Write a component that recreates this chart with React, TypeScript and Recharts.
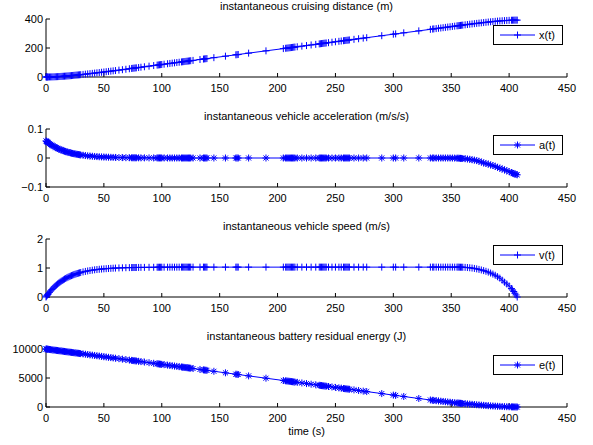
import { LineChart, Line, XAxis, YAxis, Legend, Label } from 'recharts'

const BLUE = '#0000ff'
const FONT = '"Liberation Sans", Arial, Helvetica, sans-serif'

// time samples (s)
const TIME = [
  0, 0.5, 1, 1.5, 2, 3, 4, 5, 6, 7,
  8, 9, 10, 11, 12, 13, 14, 15, 16, 17,
  18, 19, 20, 21, 22, 23, 24, 25, 26, 27,
  28, 29, 30, 32, 34, 36, 38, 40, 42, 44,
  46, 48, 50, 52, 54, 56, 58, 60, 63, 66,
  69,
  72, 74, 75, 76, 77, 78, 80, 82, 85, 89,
  93, 96, 97, 98, 99, 100, 102, 105, 107, 109,
  111, 113, 115, 117, 118, 119, 120, 121, 122, 123,
  124, 125, 127, 133, 136, 137, 138, 139, 145, 155,
  164, 165, 166, 175, 190,
  205, 207, 208, 209, 210, 211, 212, 213, 214, 215,
  217, 221, 225, 229, 233, 236, 237, 238, 239, 240,
  241, 242, 244, 247, 250, 253, 255, 257, 258, 259,
  260, 261, 262, 266, 270, 274, 277, 290, 300, 302,
  309, 322,
  332, 334, 335, 337, 339, 341, 343, 345, 347, 349,
  351, 353, 355, 356, 357, 358, 359, 360, 362, 364,
  366, 368, 370, 372, 374, 376, 378, 380, 382, 384,
  386, 388, 390, 392, 394, 396, 398, 400, 402, 403,
  404, 405, 406, 407,
]

// x(t) in m
const DISTANCE = [
  0, 0.01, 0.03, 0.06, 0.11, 0.25, 0.44, 0.67, 0.95, 1.27,
  1.63, 2.02, 2.45, 2.92, 3.42, 3.94, 4.49, 5.07, 5.68, 6.31,
  6.96, 7.63, 8.32, 9.03, 9.76, 10.51, 11.27, 12.05, 12.84, 13.64,
  14.45, 15.28, 16.12, 17.83, 19.58, 21.36, 23.17, 25.01, 26.87, 28.75,
  30.66, 32.58, 34.51, 36.46, 38.42, 40.39, 42.37, 44.36, 47.36, 50.37,
  53.4,
  56.9, 59.0, 60.1, 61.1, 62.2, 63.2, 65.3, 67.4, 70.5, 74.7,
  78.9, 82.0, 83.1, 84.1, 85.2, 86.2, 88.3, 91.4, 93.5, 95.6,
  97.7, 99.8, 101.9, 104.0, 105.0, 106.1, 107.1, 108.1, 109.2, 110.2,
  111.3, 112.3, 114.4, 120.7, 123.8, 124.9, 125.9, 127.0, 133.2, 143.7,
  153.1, 154.1, 155.2, 164.6, 180.3,
  195.9, 198.0, 199.1, 200.1, 201.2, 202.2, 203.2, 204.3, 205.3, 206.4,
  208.5, 212.7, 216.8, 221.0, 225.2, 228.3, 229.4, 230.4, 231.5, 232.5,
  233.5, 234.6, 236.7, 239.8, 243.0, 246.1, 248.2, 250.3, 251.3, 252.4,
  253.4, 254.4, 255.5, 259.7, 263.9, 268.0, 271.2, 284.8, 295.2, 297.3,
  304.6, 318.2,
  328.6, 330.7, 331.8, 333.9, 336.0, 338.0, 340.1, 342.2, 344.3, 346.4,
  348.5, 350.6, 352.7, 353.7, 354.8, 355.8, 356.8, 357.8, 359.9, 361.9,
  363.9, 365.9, 367.9, 369.8, 371.7, 373.6, 375.4, 377.2, 379.0, 380.7,
  382.3, 383.9, 385.3, 386.7, 387.9, 389.0, 390.0, 390.8, 391.5, 391.8,
  392.0, 392.2, 392.3, 392.3,
]

// a(t) in m/s/s
const ACCEL = [
  0.0589, 0.0572, 0.0556, 0.054, 0.0525, 0.0496, 0.0468, 0.0442, 0.0418, 0.0395,
  0.0373, 0.0352, 0.0332, 0.0314, 0.0297, 0.028, 0.0264, 0.025, 0.0236, 0.0223,
  0.021, 0.0199, 0.0188, 0.0177, 0.0167, 0.0158, 0.0149, 0.0141, 0.0133, 0.0126,
  0.0119, 0.0112, 0.0106, 0.0095, 0.0084, 0.0075, 0.0067, 0.006, 0.0053, 0.0048,
  0.0042, 0.0038, 0.0034, 0.003, 0.0027, 0.0024, 0.0021, 0.0019, 0.0016, 0.0014,
  0.0011,
  0.001, 0.0009, 0.0008, 0.0008, 0.0007, 0.0007, 0.0006, 0.0005, 0.0005, 0.0004,
  0.0003, 0.0003, 0.0002, 0.0002, 0.0002, 0.0002, 0.0002, 0.0001, 0.0001, 0.0001,
  0.0001, 0.0001, 0.0001, 0, 0, 0, 0, 0, 0, 0,
  0, 0, 0, 0, 0, 0, 0, 0, 0, 0,
  0, 0, 0, 0, 0,
  0, 0, 0, 0, 0, 0, 0, 0, 0, 0,
  0, 0, 0, 0, 0, 0, 0, 0, 0, 0,
  0, 0, 0, 0, 0, 0, 0, 0, 0, 0,
  0, 0, 0, 0, 0, 0, 0, 0, 0, 0,
  0, 0,
  0, 0, 0, 0, 0, 0, 0, 0, 0, -0.0001,
  -0.0002, -0.0003, -0.0005, -0.0007, -0.001, -0.0012, -0.0015, -0.0018, -0.0025, -0.0035,
  -0.0045, -0.006, -0.0075, -0.009, -0.011, -0.014, -0.017, -0.019, -0.021, -0.024,
  -0.026, -0.029, -0.032, -0.035, -0.038, -0.041, -0.044, -0.047, -0.05, -0.052,
  -0.054, -0.055, -0.057, -0.058,
]

// v(t) in m/s
const SPEED = [
  0, 0.029, 0.057, 0.085, 0.111, 0.162, 0.21, 0.256, 0.299, 0.34,
  0.378, 0.414, 0.448, 0.481, 0.511, 0.54, 0.567, 0.593, 0.617, 0.64,
  0.662, 0.682, 0.702, 0.72, 0.737, 0.753, 0.769, 0.783, 0.797, 0.81,
  0.822, 0.834, 0.844, 0.865, 0.882, 0.898, 0.913, 0.925, 0.937, 0.947,
  0.956, 0.964, 0.971, 0.977, 0.983, 0.988, 0.993, 0.997, 1.002, 1.006,
  1.01,
  1.013, 1.015, 1.016, 1.017, 1.017, 1.018, 1.019, 1.021, 1.022, 1.024,
  1.025, 1.026, 1.026, 1.027, 1.027, 1.027, 1.028, 1.028, 1.029, 1.029,
  1.029, 1.029, 1.03, 1.03, 1.03, 1.03, 1.03, 1.03, 1.03, 1.03,
  1.03, 1.03, 1.03, 1.03, 1.03, 1.03, 1.03, 1.03, 1.03, 1.03,
  1.03, 1.03, 1.03, 1.03, 1.03,
  1.03, 1.03, 1.03, 1.03, 1.03, 1.03, 1.03, 1.03, 1.03, 1.03,
  1.03, 1.03, 1.03, 1.03, 1.03, 1.03, 1.03, 1.03, 1.03, 1.03,
  1.03, 1.03, 1.03, 1.03, 1.03, 1.03, 1.03, 1.03, 1.03, 1.03,
  1.03, 1.03, 1.03, 1.03, 1.03, 1.03, 1.03, 1.03, 1.03, 1.03,
  1.03, 1.03,
  1.03, 1.03, 1.03, 1.03, 1.03, 1.03, 1.03, 1.03, 1.03, 1.03,
  1.03, 1.03, 1.03, 1.03, 1.029, 1.028, 1.027, 1.026, 1.022, 1.016,
  1.008, 0.998, 0.985, 0.97, 0.952, 0.932, 0.91, 0.886, 0.858, 0.826,
  0.79, 0.75, 0.7, 0.65, 0.58, 0.51, 0.45, 0.38, 0.29, 0.24,
  0.19, 0.13, 0.07, 0,
]

// e(t) in J
const ENERGY = [
  10000, 9987, 9974, 9960, 9947, 9920, 9894, 9867, 9841, 9814,
  9788, 9761, 9735, 9708, 9682, 9655, 9629, 9602, 9576, 9549,
  9523, 9496, 9470, 9443, 9417, 9390, 9364, 9337, 9311, 9284,
  9258, 9231, 9205, 9152, 9099, 9046, 8993, 8940, 8887, 8834,
  8781, 8728, 8675, 8622, 8569, 8516, 8463, 8410, 8330, 8251,
  8171,
  8092, 8039, 8013, 7986, 7960, 7933, 7880, 7827, 7748, 7642,
  7536, 7456, 7430, 7403, 7377, 7350, 7297, 7218, 7165, 7112,
  7059, 7006, 6953, 6900, 6873, 6847, 6820, 6794, 6767, 6741,
  6714, 6688, 6635, 6476, 6396, 6370, 6343, 6317, 6158, 5893,
  5654, 5628, 5601, 5363, 4965,
  4568, 4515, 4488, 4462, 4435, 4409, 4382, 4356, 4329, 4303,
  4250, 4144, 4038, 3932, 3826, 3746, 3720, 3693, 3667, 3640,
  3614, 3587, 3534, 3455, 3375, 3296, 3243, 3190, 3163, 3137,
  3110, 3084, 3057, 2951, 2845, 2739, 2660, 2315, 2050, 1997,
  1812, 1467,
  1210, 1160, 1135, 1090, 1045, 1000, 955, 910, 865, 822,
  780, 740, 700, 680, 660, 640, 620, 600, 565, 530,
  495, 460, 425, 390, 355, 320, 287, 255, 225, 196,
  170, 145, 122, 100, 82, 65, 50, 37, 26, 21,
  16, 11, 6, 2,
]

const X_TICKS = [0, 50, 100, 150, 200, 250, 300, 350, 400, 450]
const DIST_TICKS = [0, 200, 400]
const ACCEL_TICKS = [-0.1, 0, 0.1]
const SPEED_TICKS = [0, 1, 2]
const ENERGY_TICKS = [0, 5000, 10000]

const rows = TIME.map((t, i) => ({
  t,
  x: DISTANCE[i],
  a: ACCEL[i],
  v: SPEED[i],
  e: ENERGY[i],
}))

type Marker = 'plus' | 'star'

function markerPath(cx: number, cy: number, kind: Marker, r = 3.5) {
  let d = `M${cx - r},${cy}H${cx + r}M${cx},${cy - r}V${cy + r}`
  if (kind === 'star') {
    const q = r * 0.72
    d += `M${cx - q},${cy - q}L${cx + q},${cy + q}M${cx - q},${cy + q}L${cx + q},${cy - q}`
  }
  return d
}

function LegendBox({ label, marker }: { label: string; marker: Marker }) {
  return (
    <svg width={70} height={20} style={{ display: 'block' }}>
      <rect x={0.5} y={0.5} width={69} height={19} fill='#fff' stroke='#000' />
      <line x1={7} y1={10} x2={42} y2={10} stroke={BLUE} strokeWidth={1} />
      <path d={markerPath(24.5, 10, marker)} stroke={BLUE} strokeWidth={1} fill='none' />
      <text x={46} y={14} fontSize={11} fill='#000' fontFamily={FONT}>
        {label}
      </text>
    </svg>
  )
}

interface PanelProps {
  top: number
  height: number
  dataKey: 'x' | 'a' | 'v' | 'e'
  domain: [number, number]
  ticks: number[]
  title: string
  legend: string
  marker: Marker
  format?: (v: number) => string
  xLabel?: string
}

function Panel({ top, height, dataKey, domain, ticks, title, legend, marker, format, xLabel }: PanelProps) {
  const axisHeight = height - 77
  return (
    <div style={{ position: 'absolute', left: 0, top, width: 593, height }}>
      {/* subplot title */}
      <svg width={593} height={14} style={{ position: 'absolute', left: 0, top: 0 }}>
        <text x={306.5} y={9.5} textAnchor='middle' fontSize={11} fill='#000' fontFamily={FONT}>
          {title}
        </text>
      </svg>
      <LineChart width={593} height={height} data={rows} margin={{ top: 19, right: 26, bottom: 0, left: 0 }}>
        <XAxis
          dataKey='t'
          type='number'
          domain={[0, 450]}
          ticks={X_TICKS}
          interval={0}
          height={axisHeight}
          stroke='#000'
          tickSize={-4}
          tickMargin={11}
          tick={{ fill: '#000', fontSize: 11 }}>
          {xLabel && <Label value={xLabel} position='insideBottom' offset={10} fill='#000' fontSize={11} />}
        </XAxis>
        <XAxis
          xAxisId='top'
          orientation='top'
          dataKey='t'
          type='number'
          domain={[0, 450]}
          ticks={X_TICKS}
          interval={0}
          height={0}
          stroke='#000'
          tickSize={-4}
          tick={false}
        />
        <YAxis
          type='number'
          domain={domain}
          ticks={ticks}
          interval={0}
          width={46}
          stroke='#000'
          tickSize={-4}
          tickMargin={7}
          tick={{ fill: '#000', fontSize: 11 }}
          tickFormatter={format}
        />
        <YAxis
          yAxisId='r'
          orientation='right'
          type='number'
          domain={domain}
          ticks={ticks}
          interval={0}
          width={0}
          allowDataOverflow
          stroke='#000'
          tickSize={-4}
          tick={false}
        />
        <Line
          type='linear'
          dataKey={dataKey}
          stroke={BLUE}
          strokeWidth={1}
          isAnimationActive={false}
          activeDot={false}
          dot={(p: { cx?: number; cy?: number; index?: number }) => (
            <path
              key={`m${p.index}`}
              d={markerPath(p.cx ?? 0, p.cy ?? 0, marker)}
              stroke={BLUE}
              strokeWidth={1}
              fill='none'
            />
          )}
        />
        <Legend
          layout='vertical'
          align='center'
          verticalAlign='middle'
          wrapperStyle={{ left: 493, top: 25, width: 70, height: 20, right: 'auto', bottom: 'auto' }}
          content={() => <LegendBox label={legend} marker={marker} />}
        />
      </LineChart>
    </div>
  )
}

const minusFormat = (v: number) => (v < 0 ? `\u2212${Math.abs(v)}` : `${v}`)

export default function App() {
  return (
    <div
      style={{
        position: 'absolute',
        left: 0,
        top: 0,
        width: 593,
        height: 445,
        background: '#fff',
        fontFamily: FONT,
      }}>
      <Panel
        top={0}
        height={110}
        dataKey='x'
        domain={[0, 400]}
        ticks={DIST_TICKS}
        title='instantaneous cruising distance (m)'
        legend='x(t)'
        marker='plus'
      />
      <Panel
        top={110}
        height={110}
        dataKey='a'
        domain={[-0.1, 0.1]}
        ticks={ACCEL_TICKS}
        title='instantaneous vehicle acceleration (m/s/s)'
        legend='a(t)'
        marker='star'
        format={minusFormat}
      />
      <Panel
        top={220}
        height={110}
        dataKey='v'
        domain={[0, 2]}
        ticks={SPEED_TICKS}
        title='instantaneous vehicle speed (m/s)'
        legend='v(t)'
        marker='plus'
      />
      <Panel
        top={330}
        height={115}
        dataKey='e'
        domain={[0, 10000]}
        ticks={ENERGY_TICKS}
        title='instantaneous battery residual energy (J)'
        legend='e(t)'
        marker='star'
        xLabel='time (s)'
      />
    </div>
  )
}
